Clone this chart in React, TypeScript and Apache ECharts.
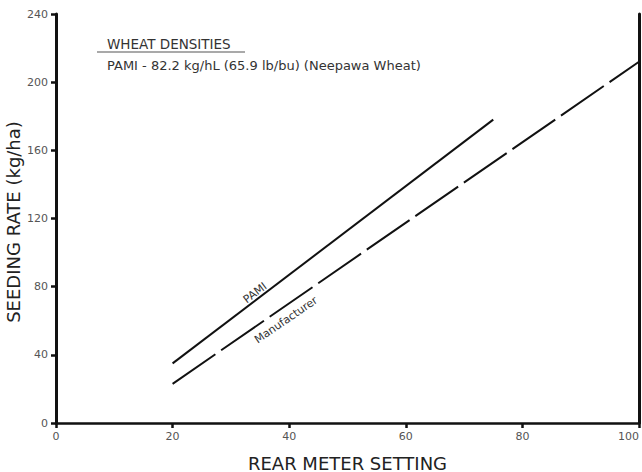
import React, { useEffect, useRef } from "react";
import * as echarts from "echarts";

const xTicks = [0, 20, 40, 60, 80, 100];
const yTicks = [0, 40, 80, 120, 160, 200, 240];
const pamiSetting = [20, 75];
const pamiRate = [35, 178];
const manufSetting = [20, 100];
const manufRate = [23, 212];
const titleText = "WHEAT DENSITIES";
const noteText = "PAMI - 82.2 kg/hL (65.9 lb/bu) (Neepawa Wheat)";
const yTitle = "SEEDING RATE (kg/ha)";

const FONT = "'DejaVu Sans', 'Liberation Sans', sans-serif";

export default function App() {
  const ref = useRef<HTMLDivElement>(null);
  useEffect(() => {
    if (!ref.current) return;
    const chart = echarts.init(ref.current, undefined, { renderer: "svg" });
    const toPts = (xs: number[], ys: number[]) => xs.map((x, i) => [x, ys[i]]);
    chart.setOption({
      animation: false,
      backgroundColor: "#ffffff",
      grid: { left: 56, right: 3, top: 14, bottom: 49, containLabel: false, outerBoundsMode: "none" },
      xAxis: {
        type: "value",
        min: xTicks[0],
        max: xTicks[xTicks.length - 1],
        interval: 20,
        name: "REAR METER SETTING",
        nameLocation: "middle",
        nameGap: 31,
        nameTextStyle: { fontFamily: FONT, fontSize: 18, color: "#222" },
        axisLine: { show: true, lineStyle: { color: "#111", width: 2.5 } },
        axisTick: { show: true, length: 5, lineStyle: { color: "#111", width: 2.5 } },
        axisLabel: { margin: 8, fontFamily: FONT, fontSize: 11, color: "#555", alignMaxLabel: "right" },
        splitLine: { show: false },
      },
      yAxis: [
        {
          type: "value",
          min: yTicks[0],
          max: yTicks[yTicks.length - 1],
          interval: 40,
          axisLine: { show: true, lineStyle: { color: "#111", width: 3 } },
          axisTick: { show: true, length: 5, lineStyle: { color: "#111", width: 2.5 } },
          axisLabel: { margin: 8, fontFamily: FONT, fontSize: 11, color: "#555" },
          splitLine: { show: false },
        },
        {
          type: "value",
          position: "right",
          min: yTicks[0],
          max: yTicks[yTicks.length - 1],
          interval: 40,
          axisLine: { show: true, lineStyle: { color: "#111", width: 3 } },
          axisTick: { show: false },
          axisLabel: { show: false },
          splitLine: { show: false },
        },
      ],
      series: [
        {
          name: "PAMI",
          type: "line",
          data: toPts(pamiSetting, pamiRate),
          showSymbol: false,
          lineStyle: { color: "#111", width: 2 },
        },
        {
          name: "Manufacturer",
          type: "line",
          data: toPts(manufSetting, manufRate),
          showSymbol: false,
          lineStyle: { color: "#111", width: 2, type: [52, 7] },
        },
      ],
      graphic: [
        {
          type: "text",
          x: 13,
          y: 222,
          rotation: Math.PI / 2,
          style: { text: yTitle, font: `18px ${FONT}`, fill: "#222", align: "center", verticalAlign: "middle" },
        },
        {
          type: "text",
          left: 107,
          top: 37,
          style: { text: titleText, font: `13.5px ${FONT}`, fill: "#333" },
        },
        {
          type: "line",
          shape: { x1: 97, y1: 52, x2: 245, y2: 52 },
          style: { stroke: "#555", lineWidth: 1.2 },
        },
        {
          type: "text",
          left: 107,
          top: 59,
          style: { text: noteText, font: `13px ${FONT}`, fill: "#333" },
        },
        {
          type: "text",
          x: 255,
          y: 293,
          rotation: (37 * Math.PI) / 180,
          style: { text: "PAMI", font: `11px ${FONT}`, fill: "#333", align: "center", verticalAlign: "middle" },
        },
        {
          type: "text",
          x: 286,
          y: 320,
          rotation: (34.5 * Math.PI) / 180,
          style: { text: "Manufacturer", font: `11px ${FONT}`, fill: "#333", align: "center", verticalAlign: "middle" },
        },
      ],
    });
    return () => chart.dispose();
  }, []);
  return (
    <div
      ref={ref}
      style={{ position: "absolute", left: 0, top: 0, width: 642, height: 472 }}
    />
  );
}
